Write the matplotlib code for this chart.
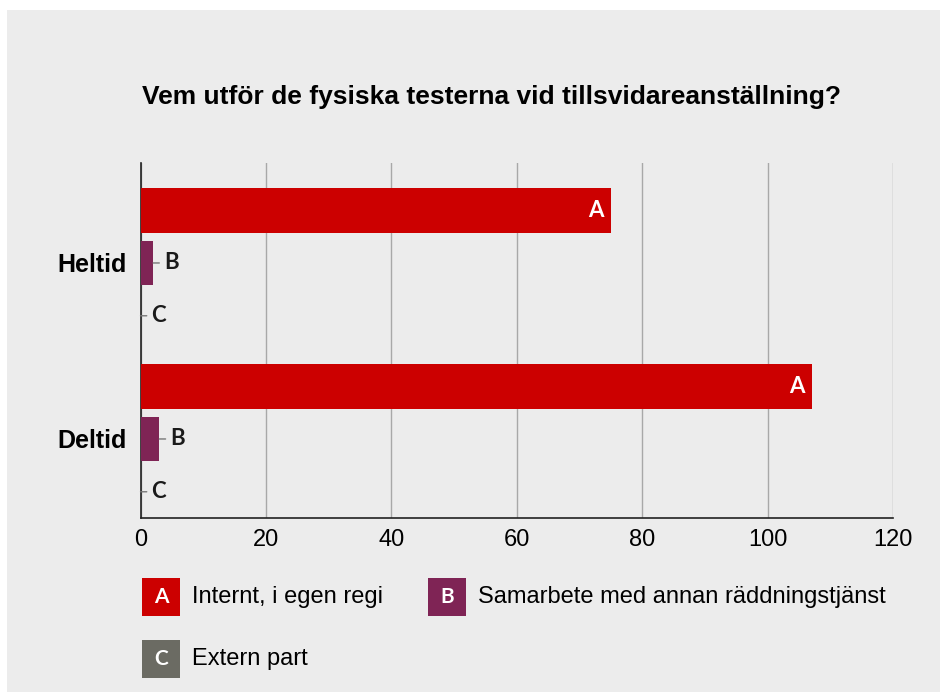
import matplotlib

matplotlib.use("Agg")

import matplotlib.pyplot as plt
from matplotlib.patches import Rectangle

# data
groups = ["Heltid", "Deltid"]
letters = ["A", "B", "C"]
series_names = ["Internt, i egen regi", "Samarbete med annan räddningstjänst", "Extern part"]
values = {
    "A": [75, 107],
    "B": [2, 3],
    "C": [0, 0],
}
xticks = [0, 20, 40, 60, 80, 100, 120]
title = "Vem utför de fysiska testerna vid tillsvidareanställning?"

colors = {"A": "#cc0000", "B": "#7f2455", "C": "#6b6b63"}
panel = "#ececec"
offsets = {"A": -0.30, "B": 0.0, "C": 0.30}
bar_h = 0.255

fig = plt.figure(figsize=(9.4, 6.92), dpi=100)
fig.patch.set_facecolor("white")
fig.patches.append(Rectangle((7 / 940, 0), 1, 1 - 10 / 692, transform=fig.transFigure,
                             facecolor=panel, edgecolor="none", zorder=-10))

ax = fig.add_axes([140.5 / 940, 1 - 518 / 692, 752.8 / 940, 355 / 692])
ax.set_facecolor(panel)

for letter in letters:
    for gi, val in enumerate(values[letter]):
        y = gi + offsets[letter]
        ax.barh(y, val, height=bar_h, color=colors[letter], edgecolor="none", zorder=3)
        if letter == "A":
            ax.annotate(letter, (val, y), xytext=(-5, 0), textcoords="offset points",
                        ha="right", va="center", color="white", fontsize=16,
                        fontweight="bold", family="Lato", zorder=4)
        else:
            ax.annotate(letter, (val, y), xytext=(8, 0), textcoords="offset points",
                        ha="left", va="center", color="#1a1a1a", fontsize=16,
                        fontweight="bold", family="Lato", zorder=4,
                        arrowprops=dict(arrowstyle="-", color="#777777", lw=1,
                                        shrinkA=1.5, shrinkB=0))

ax.set_xlim(0, 120)
ax.set_ylim(1.449, -0.568)
ax.set_xticks(xticks)
ax.set_xticklabels([str(t) for t in xticks], fontsize=17, family="Liberation Sans")
ax.set_yticks(range(len(groups)))
ax.set_yticklabels(groups, fontsize=18, fontweight="bold", family="Liberation Sans")
ax.tick_params(axis="y", length=0, pad=10)
ax.tick_params(axis="x", length=0, pad=8)
ax.grid(axis="x", color="#a8a8a8", lw=1, zorder=0)
for side in ["top", "right"]:
    ax.spines[side].set_visible(False)
ax.spines["left"].set_color("#222222")
ax.spines["bottom"].set_color("#222222")
ax.spines["left"].set_linewidth(1.2)
ax.spines["bottom"].set_linewidth(1.2)

fig.text(492 / 940, 1 - 97 / 692, title, ha="center", va="center",
         fontsize=19, fontweight="bold", family="Liberation Sans")

# legend drawn by hand: coloured box with letter, then the name
legend_pos = [(142, 578), (428, 578), (142, 640)]
for letter, name, (lx, ly) in zip(letters, series_names, legend_pos):
    fig.patches.append(Rectangle((lx / 940, 1 - (ly + 38) / 692), 38 / 940, 38 / 692,
                                 transform=fig.transFigure, facecolor=colors[letter],
                                 edgecolor="none"))
    fig.text((lx + 19) / 940, 1 - (ly + 19) / 692, letter, ha="center", va="center",
             color="white", fontsize=15, fontweight="bold", family="Lato")
    fig.text((lx + 50) / 940, 1 - (ly + 19) / 692, name, ha="left", va="center",
             fontsize=17, family="Liberation Sans")

fig.savefig("out.png", dpi=100, facecolor=fig.get_facecolor())
